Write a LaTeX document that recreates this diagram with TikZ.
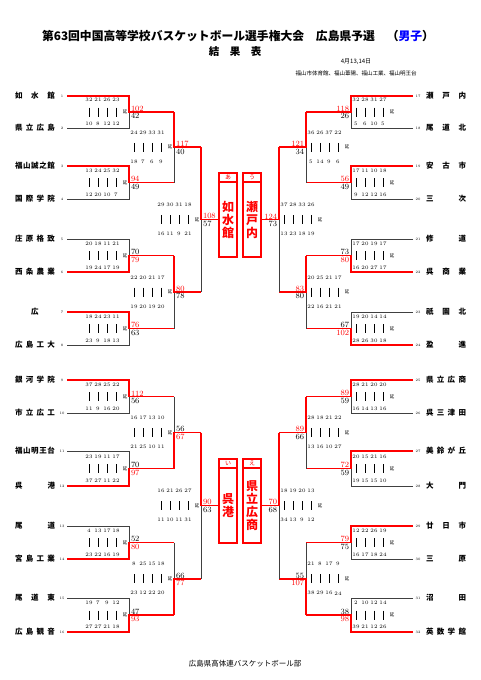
\documentclass[tikz,border=0pt]{standalone}
\usepackage{fontspec}
\newfontfamily\jp{Noto Sans CJK JP}
\usetikzlibrary{calc,positioning}

\newcommand{\fs}[1]{\fontsize{#1}{#1}\selectfont}

% 校名を一定幅に均等割り
\makeatletter
\def\spread#1{\makebox[40pt][s]{\sp@first#1\relax}}
\def\sp@first#1{#1\sp@rest}
\def\sp@rest#1{\ifx#1\relax\else\hfill#1\expandafter\sp@rest\fi}
\makeatother

% 出場校: 番号, y, 校名
\newcommand{\team}[3]{%
  \ifnum#1<17
    \node[tname] (n#1) at (35,#2) {\spread{#3}};
    \node[seed] (k#1) at (62,#2) {#1};
    \coordinate (s#1) at (67,#2);
  \else
    \node[tname] (n#1) at (446,#2) {\spread{#3}};
    \node[seed] (k#1) at (418,#2) {#1};
    \coordinate (s#1) at (413,#2);
  \fi}

% 試合: 名前, x, 上, 下, 次のx, 得点(上,下), クォーター(上,下)
\newcommand{\bout}[9]{%
  \coordinate (#1m) at ($(#3)!.5!(#4)$);
  \coordinate (#1) at (#1m -| #2,0);
  \coordinate (#1e) at (#1 -| #5,0);
  \ifdim#2pt<240pt \def\qx{-49}\def\ex{-4}\def\ta{south west}\def\ba{north west}\def\sx{1.5}%
  \else \def\qx{-4}\def\ex{41}\def\ta{south east}\def\ba{north east}\def\sx{-1.5}\fi
  \def\qy{14.5}\ifnum#2=129 \def\qy{12}\fi\ifnum#2=351 \def\qy{12}\fi
  \ifnum#6>#7
    \draw[lose] (#4) -| (#1);
    \draw[win] (#3) -| (#1) -- (#1e);
    \def\tcol{red}\def\bcol{black}%
  \else
    \draw[lose] (#3) -| (#1);
    \draw[win] (#4) -| (#1) -- (#1e);
    \def\tcol{black}\def\bcol{red}%
  \fi
  \node[score, text=\tcol, anchor=\ta] (#1x) at ([xshift=\sx]#1) {#6};
  \node[score, text=\bcol, anchor=\ba] (#1y) at ([xshift=\sx, yshift=-1]#1) {#7};
  \foreach \q [count=\k] in {#8} {
    \node[qtr] (#1u\k) at ($(#1)+(\qx+9*\k,-\qy)$) {\q};
    \draw[bar] ($(#1)+(\qx+9*\k,-4.5)$) -- ++(0,9);
  }
  \foreach \q [count=\k] in {#9} \node[qtr] (#1v\k) at ($(#1)+(\qx+9*\k,\qy)$) {\q};
  \node[ot] (#1o) at ($(#1)+(\ex,0)$) {延};
}

\begin{document}
\begin{tikzpicture}[x=1pt, y=-1pt,
    win/.style={draw=red, line width=1.6pt},
    lose/.style={draw=black!75, line width=0.7pt},
    score/.style={font=\fs{8}, inner sep=0.3pt},
    qtr/.style={font=\fs{5.2}, inner sep=0},
    bar/.style={line width=0.8pt},
    ot/.style={font=\jp\fs{4.5}, inner sep=0},
    seed/.style={font=\fs{3.5}, inner sep=0},
    tname/.style={font=\jp\bfseries\fs{7.5}, inner sep=0},
    cbox/.style={draw=red, line width=1.4pt, minimum width=18pt, minimum height=75pt,
      inner sep=0, text=red, align=center, font=\jp\bfseries\fontsize{12}{13}\selectfont},
    chead/.style={draw=red, line width=1.4pt, minimum width=18pt, minimum height=8.5pt,
      inner sep=0, text=red, font=\jp\fs{6}}]
  \fill[white] (0,0) rectangle (481,680);
  \useasboundingbox (0,0) rectangle (481,680);

  % 見出し
  \node[font=\jp\bfseries\fs{11.8}] (title) at (238,36)
    {第63回中国高等学校バスケットボール選手権大会　広島県予選　（\textcolor{blue}{男子}）};
  \node[font=\jp\bfseries\fs{10.5}] (sub) at (235,52) {結　果　表};
  \node[font=\jp\fs{6}] (date) at (356,62) {4月13,14日};
  \node[font=\jp\fs{5.5}] (venue) at (356,73) {福山市体育館、福山葦陽、福山工業、福山明王台};

  % 出場校
  \team{1}{96}{如水館}
  \team{2}{128}{県立広島}
  \team{3}{166}{福山誠之館}
  \team{4}{199}{国際学院}
  \team{5}{239}{庄原格致}
  \team{6}{272}{西条農業}
  \team{7}{312}{{\hfill 広\hfill}}
  \team{8}{345}{広島工大}
  \team{9}{380}{銀河学院}
  \team{10}{413}{市立広工}
  \team{11}{451}{福山明王台}
  \team{12}{486}{呉港}
  \team{13}{526}{尾道}
  \team{14}{559}{宮島工業}
  \team{15}{598}{尾道東}
  \team{16}{632}{広島観音}
  \team{17}{96}{瀬戸内}
  \team{18}{128}{尾道北}
  \team{19}{166}{安古市}
  \team{20}{199}{三次}
  \team{21}{239}{修道}
  \team{22}{272}{呉商業}
  \team{23}{312}{祇園北}
  \team{24}{345}{盈進}
  \team{25}{380}{県立広商}
  \team{26}{413}{呉三津田}
  \team{27}{451}{美鈴が丘}
  \team{28}{486}{大門}
  \team{29}{526}{廿日市}
  \team{30}{559}{三原}
  \team{31}{598}{沼田}
  \team{32}{632}{英数学館}

  % 左上ブロック
  \bout{a1}{129}{s1}{s2}{174}{102}{42}{32,21,26,23}{10,8,12,12}
  \bout{a2}{129}{s3}{s4}{174}{94}{49}{13,24,25,32}{12,20,10,7}
  \bout{a3}{129}{s5}{s6}{174}{70}{79}{20,18,11,21}{19,24,17,19}
  \bout{a4}{129}{s7}{s8}{174}{76}{63}{18,24,23,11}{23,9,18,13}
  \bout{a5}{174}{a1e}{a2e}{201}{117}{40}{24,29,33,31}{18,7,6,9}
  \bout{a6}{174}{a3e}{a4e}{201}{80}{78}{22,20,21,17}{19,20,19,20}
  \bout{a7}{201}{a5e}{a6e}{219}{108}{57}{29,30,31,18}{16,11,9,21}
  % 左下ブロック
  \bout{b1}{129}{s9}{s10}{174}{112}{56}{37,28,25,22}{11,9,16,20}
  \bout{b2}{129}{s11}{s12}{174}{70}{97}{23,19,11,17}{37,27,11,22}
  \bout{b3}{129}{s13}{s14}{174}{52}{80}{4,13,17,18}{23,22,16,19}
  \bout{b4}{129}{s15}{s16}{174}{47}{93}{19,7,9,12}{27,27,21,18}
  \bout{b5}{174}{b1e}{b2e}{201}{56}{67}{16,17,13,10}{21,25,10,11}
  \bout{b6}{174}{b3e}{b4e}{201}{66}{77}{8,25,15,18}{23,12,22,20}
  \bout{b7}{201}{b5e}{b6e}{219}{90}{63}{16,21,26,27}{11,10,11,31}
  % 右上ブロック
  \bout{c1}{351}{s17}{s18}{306}{118}{26}{32,28,31,27}{5,6,10,5}
  \bout{c2}{351}{s19}{s20}{306}{56}{49}{17,11,10,18}{9,12,12,16}
  \bout{c3}{351}{s21}{s22}{306}{73}{80}{17,20,19,17}{16,20,27,17}
  \bout{c4}{351}{s23}{s24}{306}{67}{102}{19,20,14,14}{28,26,30,18}
  \bout{c5}{306}{c1e}{c2e}{279}{121}{34}{36,26,37,22}{5,14,9,6}
  \bout{c6}{306}{c3e}{c4e}{279}{83}{80}{20,25,21,17}{22,16,21,21}
  \bout{c7}{279}{c5e}{c6e}{261}{124}{73}{37,28,33,26}{13,23,18,19}
  % 右下ブロック
  \bout{d1}{351}{s25}{s26}{306}{89}{59}{28,21,20,20}{16,14,13,16}
  \bout{d2}{351}{s27}{s28}{306}{72}{59}{20,15,21,16}{19,15,15,10}
  \bout{d3}{351}{s29}{s30}{306}{79}{75}{12,22,26,19}{16,17,18,24}
  \bout{d4}{351}{s31}{s32}{306}{38}{98}{2,10,12,14}{39,21,12,26}
  \bout{d5}{306}{d1e}{d2e}{279}{89}{66}{28,18,21,22}{13,16,10,27}
  \bout{d6}{306}{d3e}{d4e}{279}{55}{107}{21,8,17,9}{38,29,16,24}
  \bout{d7}{279}{d5e}{d6e}{261}{70}{68}{18,19,20,13}{34,13,9,12}

  % 代表校
  \node[cbox] (wA) at (228,219.5) {如\\水\\館};
  \node[chead, above=-0.7pt of wA] (hA) {あ};
  \node[cbox] (wC) at (252,219.5) {瀬\\戸\\内};
  \node[chead, above=-0.7pt of wC] (hC) {う};
  \node[cbox] (wB) at (228,505.5) {呉\\港};
  \node[chead, above=-0.7pt of wB] (hB) {い};
  \node[cbox] (wD) at (252,505.5) {県\\立\\広\\商};
  \node[chead, above=-0.7pt of wD] (hD) {え};

  \node[font=\jp\fs{7.5}] (foot) at (245,664) {広島県高体連バスケットボール部};
\end{tikzpicture}
\end{document}
